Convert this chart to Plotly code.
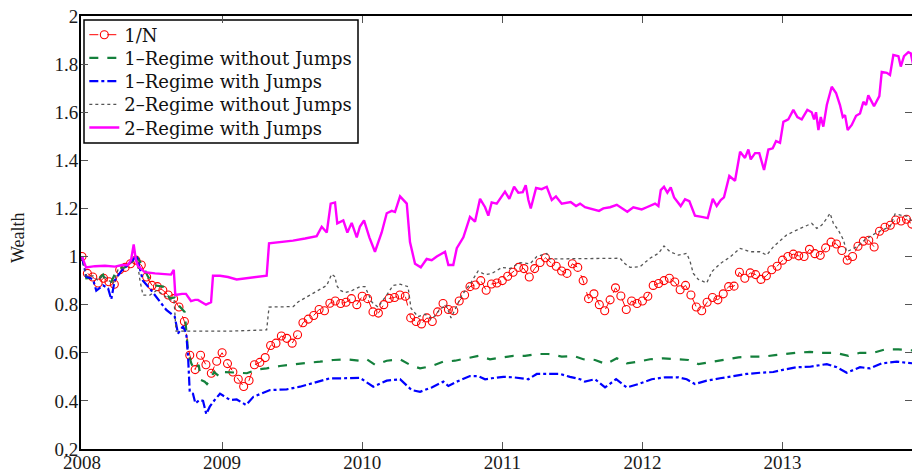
import numpy as np
import plotly.graph_objects as go

# ---------------------------------------------------------------------------
# Portfolio wealth paths, 2008-2013 (times are years after 1 Jan 2008)
# ---------------------------------------------------------------------------

# 1/N benchmark, one observation every two weeks
one_over_n = [
    1.0, 0.93, 0.915, 0.89, 0.91, 0.895, 0.885, 0.945, 0.955, 0.97,
    0.985, 0.965, 0.915, 0.88, 0.875, 0.86, 0.84, 0.825, 0.79, 0.73,
    0.59, 0.53, 0.59, 0.55, 0.515, 0.565, 0.6, 0.555, 0.52, 0.49,
    0.46, 0.485, 0.55, 0.56, 0.58, 0.63, 0.64, 0.67, 0.66, 0.64,
    0.675, 0.725, 0.74, 0.755, 0.78, 0.775, 0.806, 0.815, 0.805, 0.81,
    0.825, 0.80, 0.835, 0.825, 0.77, 0.765, 0.80, 0.826, 0.83, 0.84,
    0.835, 0.745, 0.73, 0.72, 0.745, 0.73, 0.77, 0.805, 0.78, 0.775,
    0.815, 0.84, 0.875, 0.882, 0.9, 0.86, 0.886, 0.89, 0.90, 0.918,
    0.935, 0.955, 0.95, 0.915, 0.95, 0.975, 0.995, 0.975, 0.96, 0.94,
    0.93, 0.97, 0.955, 0.9, 0.825, 0.845, 0.80, 0.775, 0.82, 0.87,
    0.836, 0.78, 0.815, 0.805, 0.815, 0.835, 0.88, 0.888, 0.9, 0.91,
    0.894, 0.862, 0.88, 0.84, 0.79, 0.775, 0.81, 0.83, 0.82, 0.845,
    0.875, 0.877, 0.935, 0.91, 0.932, 0.925, 0.905, 0.92, 0.945, 0.96,
    0.985, 1.0, 1.01, 1.003, 1.0, 1.03, 1.012, 1.005, 1.036, 1.06,
    1.052, 1.025, 0.985, 1.0, 1.043, 1.064, 1.068, 1.04, 1.105, 1.122,
    1.13, 1.152, 1.148, 1.155, 1.135,
]
one_over_n_t = np.arange(len(one_over_n)) / 26.0

# 1-Regime without Jumps
reg1_nojump_t = [
    0.000, 0.031, 0.079, 0.114, 0.150, 0.173, 0.209, 0.245, 0.269, 0.305,
    0.352, 0.395, 0.435, 0.471, 0.519, 0.578, 0.626, 0.662, 0.685, 0.733,
    0.757, 0.780, 0.804, 0.833, 0.849, 0.876, 0.892, 0.912, 0.942, 0.983,
    1.019, 1.080, 1.176, 1.247, 1.318, 1.413, 1.508, 1.604, 1.699, 1.794,
    1.889, 1.984, 2.032, 2.091, 2.175, 2.270, 2.341, 2.413, 2.496, 2.579,
    2.662, 2.746, 2.829, 2.912, 3.007, 3.079, 3.162, 3.246, 3.328, 3.424,
    3.507, 3.578, 3.662, 3.740, 3.817, 3.888, 3.971, 4.054, 4.149, 4.245,
    4.328, 4.399, 4.495, 4.590, 4.685, 4.780, 4.863, 4.946, 5.018, 5.101,
    5.196, 5.280, 5.375, 5.470, 5.553, 5.648, 5.732, 5.827, 5.931,
]
reg1_nojump = [
    1.0, 0.91, 0.912, 0.905, 0.925, 0.89, 0.895, 0.94, 0.95, 0.955,
    0.98, 0.996, 0.96, 0.916, 0.88, 0.875, 0.826, 0.83, 0.8, 0.77,
    0.604, 0.556, 0.528, 0.55, 0.487, 0.48, 0.47, 0.485, 0.52, 0.5,
    0.52, 0.517, 0.515, 0.53, 0.535, 0.545, 0.553, 0.558, 0.563, 0.57,
    0.573, 0.567, 0.573, 0.55, 0.567, 0.573, 0.55, 0.535, 0.545, 0.563,
    0.567, 0.577, 0.587, 0.573, 0.582, 0.587, 0.587, 0.595, 0.595, 0.584,
    0.587, 0.573, 0.57, 0.553, 0.577, 0.556, 0.563, 0.573, 0.577, 0.573,
    0.57, 0.553, 0.563, 0.573, 0.581, 0.584, 0.584, 0.59, 0.595, 0.6,
    0.604, 0.6, 0.6, 0.587, 0.6, 0.6, 0.614, 0.614, 0.61,
]

# 1-Regime with Jumps
reg1_jump_t = [
    0.000, 0.031, 0.079, 0.102, 0.150, 0.186, 0.209, 0.233, 0.281, 0.328,
    0.364, 0.388, 0.435, 0.483, 0.555, 0.602, 0.662, 0.685, 0.721, 0.744,
    0.757, 0.769, 0.792, 0.809, 0.840, 0.864, 0.887, 0.912, 0.947, 0.985,
    1.056, 1.104, 1.171, 1.223, 1.342, 1.461, 1.556, 1.675, 1.770, 1.865,
    1.984, 2.079, 2.175, 2.270, 2.353, 2.413, 2.496, 2.579, 2.615, 2.675,
    2.769, 2.829, 2.877, 2.924, 3.007, 3.079, 3.186, 3.246, 3.328, 3.412,
    3.483, 3.555, 3.590, 3.662, 3.733, 3.812, 3.888, 3.971, 4.066, 4.161,
    4.256, 4.316, 4.375, 4.459, 4.554, 4.649, 4.745, 4.839, 4.934, 4.994,
    5.101, 5.196, 5.316, 5.387, 5.458, 5.553, 5.625, 5.708, 5.815, 5.931,
]
reg1_jump = [
    1.0, 0.916, 0.905, 0.858, 0.88, 0.868, 0.822, 0.9, 0.94, 0.965,
    0.985, 1.006, 0.9, 0.868, 0.812, 0.778, 0.75, 0.68, 0.71, 0.68,
    0.584, 0.438, 0.43, 0.39, 0.404, 0.4, 0.345, 0.376, 0.404, 0.43,
    0.404, 0.406, 0.383, 0.417, 0.445, 0.448, 0.459, 0.48, 0.494, 0.494,
    0.496, 0.459, 0.484, 0.49, 0.445, 0.438, 0.456, 0.48, 0.462, 0.48,
    0.503, 0.503, 0.49, 0.494, 0.5, 0.498, 0.49, 0.512, 0.512, 0.512,
    0.5, 0.49, 0.48, 0.49, 0.456, 0.49, 0.456, 0.47, 0.49, 0.498,
    0.498, 0.49, 0.47, 0.484, 0.494, 0.503, 0.512, 0.517, 0.52, 0.528,
    0.54, 0.542, 0.553, 0.54, 0.517, 0.54, 0.535, 0.556, 0.563, 0.556,
]

# 2-Regime without Jumps
reg2_nojump_t = [
    0.000, 0.031, 0.079, 0.114, 0.150, 0.186, 0.221, 0.257, 0.307, 0.350,
    0.393, 0.414, 0.435, 0.485, 0.535, 0.578, 0.628, 0.657, 0.671, 0.842,
    1.056, 1.318, 1.335, 1.508, 1.544, 1.627, 1.699, 1.747, 1.782, 1.806,
    1.818, 1.842, 1.877, 1.925, 1.984, 2.020, 2.070, 2.113, 2.175, 2.220,
    2.270, 2.327, 2.348, 2.398, 2.448, 2.498, 2.555, 2.598, 2.634, 2.670,
    2.712, 2.769, 2.827, 2.877, 2.926, 2.998, 3.055, 3.126, 3.198, 3.246,
    3.317, 3.340, 3.383, 3.507, 3.697, 3.840, 3.876, 3.912, 3.983, 4.054,
    4.114, 4.154, 4.197, 4.256, 4.316, 4.340, 4.363, 4.399, 4.459, 4.495,
    4.554, 4.625, 4.697, 4.768, 4.839, 4.887, 4.934, 5.006, 5.030, 5.101,
    5.161, 5.208, 5.244, 5.280, 5.316, 5.339, 5.363, 5.398, 5.434, 5.458,
    5.530, 5.589, 5.672, 5.767, 5.803, 5.898, 5.931,
]
reg2_nojump = [
    1.0, 0.92, 0.92, 0.9, 0.92, 0.905, 0.885, 0.945, 0.955, 0.975,
    0.985, 0.9, 0.84, 0.84, 0.86, 0.84, 0.82, 0.82, 0.69, 0.69,
    0.69, 0.695, 0.79, 0.792, 0.812, 0.84, 0.864, 0.88, 0.927, 0.916,
    0.88, 0.86, 0.85, 0.858, 0.875, 0.875, 0.81, 0.79, 0.84, 0.88,
    0.885, 0.875, 0.785, 0.75, 0.76, 0.74, 0.78, 0.80, 0.745, 0.79,
    0.84, 0.885, 0.94, 0.925, 0.93, 0.955, 0.95, 0.975, 0.97, 1.0,
    1.013, 0.99, 0.99, 0.993, 0.993, 0.993, 0.97, 0.955, 0.958, 0.993,
    1.013, 1.044, 1.02, 1.006, 1.013, 0.98, 0.93, 0.905, 0.89, 0.937,
    0.97, 0.998, 1.034, 1.02, 1.02, 1.006, 1.04, 1.075, 1.09, 1.11,
    1.124, 1.138, 1.117, 1.131, 1.159, 1.18, 1.138, 1.11, 1.07, 1.02,
    1.04, 1.07, 1.1, 1.124, 1.177, 1.166, 1.138,
]

# 2-Regime with Jumps
reg2_jump_t = [
    0.000, 0.029, 0.093, 0.164, 0.236, 0.286, 0.328, 0.350, 0.369, 0.385,
    0.400, 0.448, 0.521, 0.592, 0.635, 0.655, 0.666, 0.714, 0.742, 0.778,
    0.807, 0.828, 0.857, 0.885, 0.921, 0.935, 0.985, 1.042, 1.104, 1.176,
    1.242, 1.318, 1.335, 1.413, 1.506, 1.592, 1.675, 1.711, 1.747, 1.775,
    1.806, 1.822, 1.865, 1.894, 1.925, 1.961, 1.984, 2.013, 2.051, 2.091,
    2.139, 2.175, 2.211, 2.234, 2.270, 2.318, 2.341, 2.377, 2.418, 2.460,
    2.496, 2.532, 2.591, 2.615, 2.650, 2.675, 2.722, 2.769, 2.805, 2.841,
    2.877, 2.900, 2.924, 2.960, 2.984, 3.019, 3.050, 3.084, 3.114, 3.146,
    3.167, 3.186, 3.203, 3.241, 3.281, 3.317, 3.353, 3.383, 3.424, 3.488,
    3.526, 3.555, 3.590, 3.650, 3.690, 3.721, 3.769, 3.817, 3.859, 3.892,
    3.935, 3.995, 4.031, 4.090, 4.114, 4.131, 4.154, 4.178, 4.202, 4.226,
    4.273, 4.304, 4.335, 4.375, 4.423, 4.466, 4.502, 4.530, 4.559, 4.582,
    4.620, 4.661, 4.697, 4.732, 4.756, 4.773, 4.804, 4.834, 4.868, 4.899,
    4.930, 4.954, 4.982, 5.006, 5.041, 5.077, 5.106, 5.137, 5.177, 5.208,
    5.225, 5.239, 5.256, 5.273, 5.291, 5.316, 5.351, 5.382, 5.410, 5.430,
    5.446, 5.465, 5.494, 5.525, 5.553, 5.577, 5.596, 5.612, 5.637, 5.653,
    5.691, 5.708, 5.744, 5.767, 5.791, 5.827, 5.844, 5.867, 5.898, 5.915,
    5.931,
]
reg2_jump = [
    1.0, 0.955, 0.96, 0.962, 0.958, 0.965, 0.965, 0.985, 1.05, 0.985,
    0.96, 0.935, 0.93, 0.925, 0.925, 0.945, 0.84, 0.845, 0.845, 0.815,
    0.82, 0.82, 0.81, 0.80, 0.81, 0.92, 0.92, 0.915, 0.905, 0.91,
    0.915, 0.92, 1.055, 1.06, 1.066, 1.075, 1.085, 1.124, 1.10, 1.22,
    1.225, 1.138, 1.15, 1.10, 1.14, 1.08, 1.125, 1.15, 1.08, 1.02,
    1.10, 1.18, 1.19, 1.185, 1.25, 1.22, 1.06, 0.97, 0.955, 0.99,
    0.985, 1.0, 1.02, 0.965, 0.965, 1.035, 1.08, 1.165, 1.145, 1.24,
    1.205, 1.17, 1.225, 1.22, 1.24, 1.27, 1.24, 1.29, 1.265, 1.268,
    1.297, 1.235, 1.2, 1.285, 1.28, 1.29, 1.235, 1.25, 1.22, 1.227,
    1.21, 1.22, 1.205, 1.196, 1.19, 1.2, 1.205, 1.215, 1.2, 1.186,
    1.205, 1.196, 1.205, 1.22, 1.21, 1.276, 1.29, 1.266, 1.288, 1.246,
    1.21, 1.238, 1.23, 1.17, 1.165, 1.16, 1.24, 1.21, 1.235, 1.246,
    1.335, 1.315, 1.436, 1.41, 1.445, 1.404, 1.43, 1.43, 1.36, 1.445,
    1.45, 1.48, 1.473, 1.56, 1.57, 1.61, 1.58, 1.57, 1.61, 1.6,
    1.57, 1.6, 1.526, 1.58, 1.54, 1.63, 1.706, 1.68, 1.63, 1.58,
    1.588, 1.526, 1.547, 1.585, 1.595, 1.643, 1.63, 1.67, 1.643, 1.625,
    1.667, 1.768, 1.764, 1.755, 1.838, 1.833, 1.79, 1.833, 1.85, 1.845,
    1.8,
]

year_ticks = [2008, 2009, 2010, 2011, 2012, 2013]
wealth_ticks = [0.2, 0.4, 0.6, 0.8, 1.0, 1.2, 1.4, 1.6, 1.8, 2.0]
wealth_labels = ["0.2", "0.4", "0.6", "0.8", "1", "1.2", "1.4", "1.6", "1.8", "2"]

START_YEAR = 2008.0


def years(offsets):
    return START_YEAR + np.asarray(offsets, dtype=float)


SERIF = "'Liberation Serif', 'Times New Roman', serif"
WIDE_SERIF = "'DejaVu Serif', 'Liberation Serif', serif"
axis_font = dict(family=SERIF, size=19, color="#1a1a1a")
legend_font = dict(family=WIDE_SERIF, size=18, color="#111111")

fig = go.Figure()

# each series gets its own one-row legend so the rows can sit tightly stacked
fig.add_trace(go.Scatter(
    x=years(one_over_n_t), y=one_over_n, name="1/N", mode="lines+markers",
    line=dict(color="#ff0000", width=1, dash="dash"),
    marker=dict(symbol="circle-open", size=8, color="#ff0000", line=dict(width=1.1)),
    legend="legend",
))
fig.add_trace(go.Scatter(
    x=years(reg1_nojump_t), y=reg1_nojump, name="1\u2013Regime without Jumps", mode="lines",
    line=dict(color="#14803c", width=2.2, dash="dash"),
    legend="legend2",
))
fig.add_trace(go.Scatter(
    x=years(reg1_jump_t), y=reg1_jump, name="1\u2013Regime with Jumps", mode="lines",
    line=dict(color="#0000ff", width=2.2, dash="dashdot"),
    legend="legend3",
))
fig.add_trace(go.Scatter(
    x=years(reg2_nojump_t), y=reg2_nojump, name="2\u2013Regime without Jumps", mode="lines",
    line=dict(color="#555555", width=1.3, dash="dot"),
    legend="legend4",
))
fig.add_trace(go.Scatter(
    x=years(reg2_jump_t), y=reg2_jump, name="2\u2013Regime with Jumps", mode="lines",
    line=dict(color="#ff00ff", width=2.4),
    legend="legend5",
))

PLOT_H = 433.0
PLOT_W = 831.0
row_centres_px = [35.0, 58.2, 81.4, 104.6, 127.8]   # measured from the top of the figure
legend_layout = {}
for k, yc in enumerate(row_centres_px):
    key = "legend" if k == 0 else f"legend{k + 1}"
    legend_layout[key] = dict(
        x=0.004, y=1 - (yc - 16) / PLOT_H, xanchor="left", yanchor="middle",
        bgcolor="rgba(0,0,0,0)", borderwidth=0, font=legend_font,
    )

fig.update_layout(
    width=912, height=472,
    margin=dict(l=81, r=0, t=16, b=23),
    paper_bgcolor="white", plot_bgcolor="white",
    font=axis_font,
    showlegend=True,
    shapes=[dict(
        type="rect", xref="paper", yref="paper",
        x0=(84 - 81) / PLOT_W, x1=(358 - 81) / PLOT_W,
        y0=1 - (143 - 16) / PLOT_H, y1=1 - (20 - 16) / PLOT_H,
        line=dict(color="black", width=1.5), fillcolor="white", layer="below",
    )],
    annotations=[dict(
        text="Wealth", xref="paper", yref="paper",
        x=(18 - 81) / PLOT_W, y=1 - (238 - 16) / PLOT_H,
        xanchor="center", yanchor="middle", textangle=-90, showarrow=False,
        font=dict(family=SERIF, size=18, color="#1a1a1a"),
    )],
    **legend_layout,
)

fig.update_xaxes(
    range=[2007.9929, 2013.924],
    tickvals=year_ticks, ticktext=[str(y) for y in year_ticks],
    ticks="inside", ticklen=7, tickwidth=1, tickcolor="#555555",
    showline=True, linecolor="black", linewidth=1.5, mirror="ticks",
    showgrid=False, zeroline=False, automargin=False,
    tickfont=axis_font, ticklabelstandoff=-5,
)
fig.update_yaxes(
    range=[0.2, 2.0],
    tickvals=wealth_ticks, ticktext=wealth_labels,
    ticks="inside", ticklen=7, tickwidth=1, tickcolor="#555555",
    showline=True, linecolor="black", linewidth=2, mirror="ticks",
    showgrid=False, zeroline=False, automargin=False,
    tickfont=axis_font, ticklabelstandoff=-3,
)

fig.write_html("out.html")
